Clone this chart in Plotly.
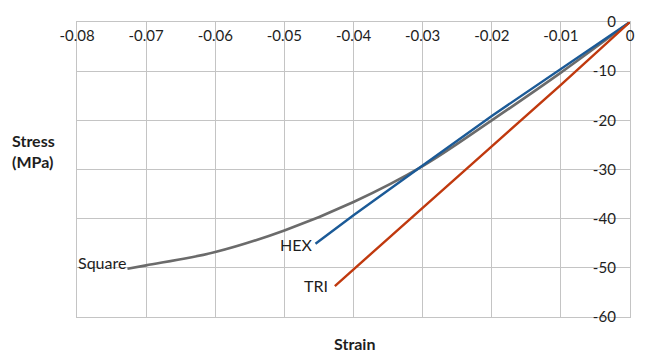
import plotly.graph_objects as go

# Data
square_x = [0, -0.01, -0.02, -0.03, -0.04, -0.05, -0.06, -0.07, -0.0727]
square_y = [0, -10.3, -20.0, -29.3, -36.6, -42.4, -46.8, -49.5, -50.2]

hex_x = [0, -0.01, -0.02, -0.03, -0.04, -0.0455]
hex_y = [0, -9.5, -19.1, -29.2, -39.3, -45.1]

tri_x = [0, -0.01, -0.02, -0.03, -0.0427]
tri_y = [0, -12.8, -25.3, -37.9, -53.7]

x_ticks = [-0.08, -0.07, -0.06, -0.05, -0.04, -0.03, -0.02, -0.01, 0]
x_labels = ["-0.08", "-0.07", "-0.06", "-0.05", "-0.04", "-0.03", "-0.02", "-0.01", "0"]
y_ticks = [0, -10, -20, -30, -40, -50, -60]
y_labels = ["0", "-10", "-20", "-30", "-40", "-50", "-60"]

FONT = "Lato"
GRID = "#c4c4c4"
TXT = "#1e1e1e"

fig = go.Figure()
fig.add_trace(go.Scatter(x=square_x, y=square_y, mode="lines", name="Square",
                         line=dict(color="#6b6b6b", width=2.6, shape="spline", smoothing=1.0)))
fig.add_trace(go.Scatter(x=hex_x, y=hex_y, mode="lines", name="HEX",
                         line=dict(color="#1b5a97", width=2.4)))
fig.add_trace(go.Scatter(x=tri_x, y=tri_y, mode="lines", name="TRI",
                         line=dict(color="#c0390e", width=2.4)))

fig.add_annotation(x=square_x[-1], y=square_y[-1], text="Square", showarrow=False,
                   xanchor="right", yanchor="middle", xshift=1, yshift=6,
                   font=dict(family=FONT, size=16, color=TXT))
fig.add_annotation(x=hex_x[-1], y=hex_y[-1], text="HEX", showarrow=False,
                   xanchor="right", yanchor="middle", xshift=-1, yshift=-1,
                   font=dict(family=FONT, size=16, color=TXT))
fig.add_annotation(x=tri_x[-1], y=tri_y[-1], text="TRI", showarrow=False,
                   xanchor="right", yanchor="middle", xshift=-5, yshift=1,
                   font=dict(family=FONT, size=16, color=TXT))

fig.add_annotation(xref="paper", yref="paper", x=-0.079, y=0.564, text="<b>Stress<br>(MPa)</b>",
                   showarrow=False, xanchor="center", yanchor="middle", align="left",
                   font=dict(family=FONT, size=16, color=TXT))
fig.add_annotation(xref="paper", yref="paper", x=0.502, y=-0.089, text="<b>Strain</b>",
                   showarrow=False, xanchor="center", yanchor="middle",
                   font=dict(family=FONT, size=16, color=TXT))

fig.update_layout(
    width=647, height=352,
    margin=dict(l=77, r=14, t=14, b=35),
    paper_bgcolor="white", plot_bgcolor="white",
    showlegend=False,
    font=dict(family=FONT, size=15, color=TXT),
    xaxis=dict(range=[-0.08, 0], side="top", tickvals=x_ticks, ticktext=x_labels,
               ticklabelposition="inside", ticklabeloverflow="allow", ticklabelstandoff=8,
               ticks="", showgrid=True, gridcolor=GRID, gridwidth=1.3,
               showline=True, linecolor=GRID, linewidth=1.3, mirror=True,
               zeroline=False, fixedrange=True, tickfont=dict(family=FONT, size=15, color=TXT)),
    yaxis=dict(range=[-60, 0], side="right", tickvals=y_ticks, ticktext=y_labels,
               ticklabelposition="inside", ticklabeloverflow="allow", ticklabelstandoff=14,
               ticks="", showgrid=True, gridcolor=GRID, gridwidth=1.3,
               showline=True, linecolor=GRID, linewidth=1.3, mirror=True,
               zeroline=False, fixedrange=True, tickfont=dict(family=FONT, size=15, color=TXT)),
)

fig.write_html("out.html")
